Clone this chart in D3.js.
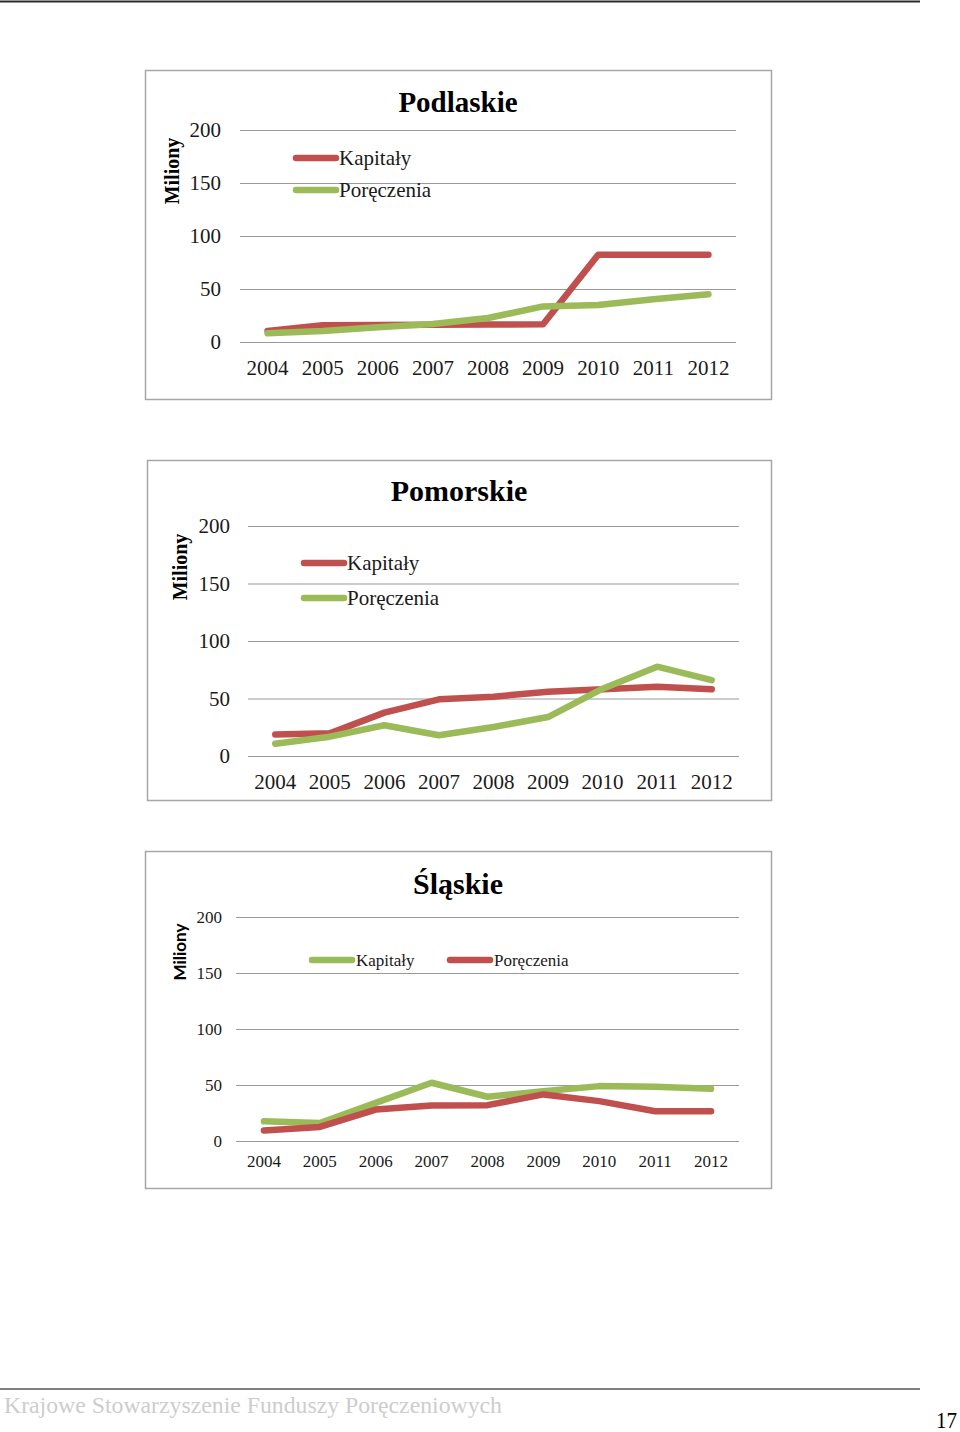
<!DOCTYPE html>
<html>
<head>
<meta charset="utf-8">
<script src="https://cdn.jsdelivr.net/npm/d3@7"></script>
<style>
  html, body { margin: 0; padding: 0; background: #fff; }
  svg { display: block; }
</style>
</head>
<body>
<svg id="page" width="960" height="1432"></svg>
<script>
// ---------- DATA ----------
const years = ["2004","2005","2006","2007","2008","2009","2010","2011","2012"];
const yTicks = [0, 50, 100, 150, 200];
const axisTitle = "Miliony";
const footerText = "Krajowe Stowarzyszenie Funduszy Poręczeniowych";
const pageNumber = "17";

const podlaskieTitle = "Podlaskie";
const podlaskieKapitaly   = [10.4, 15.7, 16, 16.3, 16.5, 16.7, 82.4, 82.4, 82.4];
const podlaskiePoreczenia = [8.2, 10.4, 14, 17, 22.6, 33.6, 34.9, 40.3, 45];

const pomorskieTitle = "Pomorskie";
const pomorskieKapitaly   = [18.8, 19.7, 37.7, 49.3, 51.6, 55.9, 58, 60.3, 58];
const pomorskiePoreczenia = [10.7, 16.8, 26.7, 18, 25.2, 33.9, 58.5, 77.7, 66];

const slaskieTitle = "Śląskie";
const slaskieKapitaly   = [17.6, 16.1, 34, 52, 39.5, 44.5, 49, 48.4, 46.6];
const slaskiePoreczenia = [9.3, 12.6, 28.1, 31.7, 32, 41.6, 35.6, 26.6, 26.6];

const seriesNames = ["Kapitały", "Poręczenia"];
const RED = "#C0504D", GREEN = "#9BBB59";

// ---------- LAYOUT ----------
const charts = [
  {
    title: podlaskieTitle,
    series: [
      {name: seriesNames[0], values: podlaskieKapitaly, color: RED},
      {name: seriesNames[1], values: podlaskiePoreczenia, color: GREEN}
    ],
    frame: {x: 145, y: 70, w: 626, h: 329},
    plot: {x0: 240, x1: 736, yBottom: 342, yTop: 130},
    titleY: 112, titleFont: "Liberation Serif", titleSize: 29,
    tickFont: 21, tickPadY: 19, tickPadX: 18,
    axisTitleX: 179, axisTitleY: 171, axisTitleFont: "Liberation Serif", axisTitleSize: 20,
    legend: [
      {x1: 296, x2: 336, y: 158, tx: 339},
      {x1: 296, x2: 336, y: 190, tx: 339}
    ],
    legendFont: 21
  },
  {
    title: pomorskieTitle,
    series: [
      {name: seriesNames[0], values: pomorskieKapitaly, color: RED},
      {name: seriesNames[1], values: pomorskiePoreczenia, color: GREEN}
    ],
    frame: {x: 147, y: 460, w: 624, h: 340},
    plot: {x0: 248, x1: 739, yBottom: 756, yTop: 526},
    titleY: 501, titleFont: "Liberation Serif", titleSize: 30,
    tickFont: 21, tickPadY: 18, tickPadX: 18,
    axisTitleX: 187, axisTitleY: 567, axisTitleFont: "Liberation Serif", axisTitleSize: 20,
    legend: [
      {x1: 304, x2: 344, y: 563, tx: 347},
      {x1: 304, x2: 344, y: 598, tx: 347}
    ],
    legendFont: 21
  },
  {
    title: slaskieTitle,
    series: [
      {name: seriesNames[0], values: slaskieKapitaly, color: GREEN},
      {name: seriesNames[1], values: slaskiePoreczenia, color: RED}
    ],
    frame: {x: 145, y: 851, w: 626, h: 337},
    plot: {x0: 236, x1: 739, yBottom: 1141, yTop: 917},
    titleY: 894, titleFont: "Liberation Serif", titleSize: 30,
    tickFont: 17, tickPadY: 14, tickPadX: 14,
    axisTitleX: 186, axisTitleY: 952, axisTitleFont: "Lato", axisTitleSize: 17,
    legend: [
      {x1: 312, x2: 352, y: 960, tx: 356},
      {x1: 450, x2: 490, y: 960, tx: 494}
    ],
    legendFont: 17
  }
];

const svg = d3.select("#page");

// page rules
svg.append("line").attr("x1", 0).attr("x2", 920).attr("y1", 1.5).attr("y2", 1.5)
  .attr("stroke", "#2a2a2a").attr("stroke-width", 2);
svg.append("line").attr("x1", 0).attr("x2", 920).attr("y1", 1389).attr("y2", 1389)
  .attr("stroke", "#555").attr("stroke-width", 1.5);
svg.append("text").attr("x", 4).attr("y", 1413)
  .attr("font-family", "Liberation Serif").attr("font-size", 24)
  .attr("fill", "#cdcdcd")
  .attr("textLength", 498).attr("lengthAdjust", "spacingAndGlyphs")
  .text(footerText);
svg.append("text").attr("x", 936).attr("y", 1428)
  .attr("font-family", "Liberation Serif").attr("font-size", 24)
  .attr("fill", "#000")
  .attr("textLength", 21).attr("lengthAdjust", "spacingAndGlyphs")
  .text(pageNumber);

charts.forEach(c => {
  const g = svg.append("g");
  // frame
  g.append("rect")
    .attr("x", c.frame.x + 0.5).attr("y", c.frame.y + 0.5)
    .attr("width", c.frame.w).attr("height", c.frame.h)
    .attr("fill", "#fff").attr("stroke", "#a6a6a6").attr("stroke-width", 1.5);

  const x = d3.scaleBand().domain(years).range([c.plot.x0, c.plot.x1]);
  const y = d3.scaleLinear().domain([0, 200]).range([c.plot.yBottom, c.plot.yTop]);

  // y axis with gridlines
  const yAxis = d3.axisLeft(y).tickValues(yTicks)
    .tickSize(-(c.plot.x1 - c.plot.x0)).tickPadding(c.tickPadY);
  const ya = g.append("g").attr("transform", `translate(${c.plot.x0},0)`).call(yAxis);
  ya.select(".domain").remove();
  ya.selectAll(".tick line").attr("stroke", "#9a9a9a").attr("stroke-width", 1.2);
  ya.selectAll(".tick text")
    .attr("font-family", "Liberation Serif").attr("font-size", c.tickFont)
    .attr("fill", "#1a1a1a");

  // x axis labels
  const xAxis = d3.axisBottom(x).tickSize(0).tickPadding(c.tickPadX);
  const xa = g.append("g").attr("transform", `translate(0,${c.plot.yBottom})`).call(xAxis);
  xa.select(".domain").remove();
  xa.selectAll(".tick text")
    .attr("font-family", "Liberation Serif").attr("font-size", c.tickFont)
    .attr("fill", "#1a1a1a");

  // lines
  const line = d3.line()
    .x((d, i) => x(years[i]) + x.bandwidth() / 2)
    .y(d => y(d));
  c.series.forEach(s => {
    g.append("path").datum(s.values)
      .attr("d", line)
      .attr("fill", "none")
      .attr("stroke", s.color)
      .attr("stroke-width", 6.5)
      .attr("stroke-linejoin", "round")
      .attr("stroke-linecap", "round");
  });

  // title
  g.append("text")
    .attr("x", (c.frame.x + c.frame.x + c.frame.w) / 2)
    .attr("y", c.titleY)
    .attr("text-anchor", "middle")
    .attr("font-family", c.titleFont).attr("font-weight", "bold")
    .attr("font-size", c.titleSize).attr("fill", "#000")
    .text(c.title);

  // axis title
  g.append("text")
    .attr("transform", `translate(${c.axisTitleX},${c.axisTitleY}) rotate(-90)`)
    .attr("text-anchor", "middle")
    .attr("font-family", c.axisTitleFont).attr("font-weight", "bold")
    .attr("font-size", c.axisTitleSize).attr("fill", "#000")
    .text(axisTitle);

  // legend
  c.series.forEach((s, i) => {
    const L = c.legend[i];
    g.append("line")
      .attr("x1", L.x1).attr("x2", L.x2).attr("y1", L.y).attr("y2", L.y)
      .attr("stroke", s.color).attr("stroke-width", 6.5).attr("stroke-linecap", "round");
    g.append("text")
      .attr("x", L.tx).attr("y", L.y).attr("dy", "0.35em")
      .attr("font-family", "Liberation Serif").attr("font-size", c.legendFont)
      .attr("fill", "#1a1a1a")
      .text(s.name);
  });
});
</script>
</body>
</html>
